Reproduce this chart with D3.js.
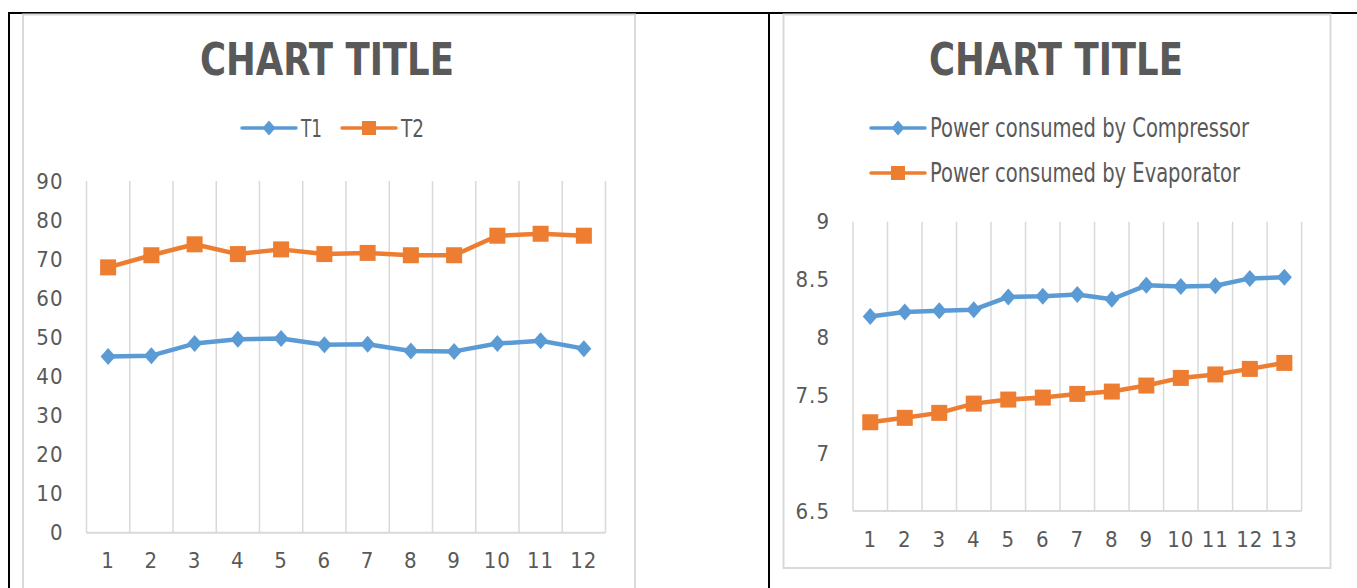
<!DOCTYPE html>
<html>
<head>
<meta charset="utf-8">
<script src="https://cdn.jsdelivr.net/npm/d3@7"></script>
<style>
  html, body { margin: 0; padding: 0; background: #fff; }
  svg { display: block; }
  text { font-family: "DejaVu Sans Condensed", "Liberation Sans Narrow", sans-serif; fill: #595959; }
</style>
</head>
<body>
<svg id="chart" width="1357" height="588"></svg>
<script>
// ---------- data ----------
const leftCategories = [1, 2, 3, 4, 5, 6, 7, 8, 9, 10, 11, 12];
const t1Values = [45.1, 45.3, 48.4, 49.5, 49.7, 48.1, 48.2, 46.5, 46.4, 48.4, 49.1, 47.1];
const t2Values = [67.9, 71.0, 73.8, 71.3, 72.5, 71.3, 71.6, 71.0, 71.0, 76.0, 76.5, 76.0];
const leftTicks = [0, 10, 20, 30, 40, 50, 60, 70, 80, 90];
const leftSeriesNames = ["T1", "T2"];

const rightCategories = [1, 2, 3, 4, 5, 6, 7, 8, 9, 10, 11, 12, 13];
const compressorValues = [8.18, 8.22, 8.23, 8.24, 8.35, 8.355, 8.37, 8.33, 8.45, 8.44, 8.447, 8.51, 8.52];
const evaporatorValues = [7.267, 7.305, 7.348, 7.428, 7.463, 7.48, 7.512, 7.532, 7.584, 7.65, 7.68, 7.728, 7.78];
const rightTicks = [6.5, 7, 7.5, 8, 8.5, 9];
const rightSeriesNames = ["Power consumed by Compressor", "Power consumed by Evaporator"];

const chartTitle = "CHART TITLE";

// ---------- style ----------
const BLUE = "#5B9BD5", ORANGE = "#ED7D31", GRID = "#d9d9d9", TXT = "#595959";
const svg = d3.select("#chart");

// page frame (black lines)
svg.append("line").attr("x1", 8).attr("x2", 1357).attr("y1", 13).attr("y2", 13)
  .attr("stroke", "#000").attr("stroke-width", 2);
svg.append("line").attr("x1", 9).attr("x2", 9).attr("y1", 12).attr("y2", 588)
  .attr("stroke", "#000").attr("stroke-width", 2);
svg.append("line").attr("x1", 769).attr("x2", 769).attr("y1", 12).attr("y2", 588)
  .attr("stroke", "#000").attr("stroke-width", 2);

function diamondPath(w, h) {
  return `M0,${-h/2}L${w/2},0L0,${h/2}L${-w/2},0Z`;
}

function drawChart(cfg) {
  const g = svg.append("g");
  // chart box
  g.append("rect").attr("x", cfg.box[0]).attr("y", cfg.box[1])
    .attr("width", cfg.box[2] - cfg.box[0]).attr("height", cfg.box[3] - cfg.box[1])
    .attr("fill", "#fff").attr("stroke", GRID).attr("stroke-width", 2);

  // title
  g.append("text").attr("x", cfg.titleX).attr("y", 75)
    .attr("text-anchor", "middle").attr("font-size", 44).attr("font-weight", "bold")
    .attr("textLength", 254).attr("lengthAdjust", "spacingAndGlyphs")
    .style("fill", TXT).text(chartTitle);

  const x = d3.scaleBand().domain(cfg.categories).range(cfg.xRange).padding(0);
  const y = d3.scaleLinear().domain([cfg.ticks[0], cfg.ticks[cfg.ticks.length - 1]]).range(cfg.yRange);
  const cx = d => x(d) + x.bandwidth() / 2;

  // vertical gridlines at category boundaries
  const bounds = cfg.categories.map(c => x(c)).concat([x.range()[1]]);
  g.append("g").selectAll("line").data(bounds).join("line")
    .attr("x1", d => d).attr("x2", d => d)
    .attr("y1", y.range()[1]).attr("y2", y.range()[0])
    .attr("stroke", GRID).attr("stroke-width", 1.5);
  // baseline
  g.append("line").attr("x1", x.range()[0]).attr("x2", x.range()[1])
    .attr("y1", y.range()[0]).attr("y2", y.range()[0])
    .attr("stroke", GRID).attr("stroke-width", 2);

  // y axis labels
  const yAxis = d3.axisLeft(y).tickValues(cfg.ticks).tickSize(0).tickPadding(cfg.yPad)
    .tickFormat(d => String(d));
  const ya = g.append("g").attr("transform", `translate(${x.range()[0]},0)`).call(yAxis);
  ya.select(".domain").remove();
  ya.selectAll("text").attr("font-size", 22).attr("letter-spacing", 1)
    .attr("font-family", null).style("fill", TXT);

  // x axis labels
  const xAxis = d3.axisBottom(x).tickSize(0).tickPadding(cfg.xPad);
  const xa = g.append("g").attr("transform", `translate(0,${y.range()[0]})`).call(xAxis);
  xa.select(".domain").remove();
  xa.selectAll("text").attr("font-size", 22).attr("letter-spacing", 1)
    .attr("font-family", null).style("fill", TXT);

  const line = d3.line().x((d, i) => cx(cfg.categories[i])).y(d => y(d));

  // series 1 (blue, diamonds)
  g.append("path").datum(cfg.s1).attr("d", line).attr("fill", "none")
    .attr("stroke", BLUE).attr("stroke-width", 4.5).attr("stroke-linejoin", "round").attr("stroke-linecap", "round");
  g.append("g").selectAll("path").data(cfg.s1).join("path")
    .attr("transform", (d, i) => `translate(${cx(cfg.categories[i])},${y(d)})`)
    .attr("d", diamondPath(15, 17)).attr("fill", BLUE);

  // series 2 (orange, squares)
  g.append("path").datum(cfg.s2).attr("d", line).attr("fill", "none")
    .attr("stroke", ORANGE).attr("stroke-width", 4.5).attr("stroke-linejoin", "round").attr("stroke-linecap", "round");
  g.append("g").selectAll("rect").data(cfg.s2).join("rect")
    .attr("x", (d, i) => cx(cfg.categories[i]) - 8).attr("y", d => y(d) - 8)
    .attr("width", 16).attr("height", 16).attr("fill", ORANGE);

  // legend
  cfg.legend.forEach((L, i) => {
    const lg = g.append("g").attr("transform", `translate(${L.x},${L.y})`);
    const color = i === 0 ? BLUE : ORANGE;
    lg.append("line").attr("x1", 0).attr("x2", 54).attr("y1", 0).attr("y2", 0)
      .attr("stroke", color).attr("stroke-width", 3.5).attr("stroke-linecap", "round");
    if (i === 0) {
      lg.append("path").attr("transform", "translate(27,0)").attr("d", diamondPath(13, 15)).attr("fill", color);
    } else {
      lg.append("rect").attr("x", 20).attr("y", -7).attr("width", 14).attr("height", 14).attr("fill", color);
    }
    lg.append("text").attr("x", 59).attr("y", 0).attr("dy", "0.36em")
      .attr("font-size", L.fs)
      .attr("textLength", L.w).attr("lengthAdjust", "spacingAndGlyphs")
      .style("fill", TXT).text(L.name);
  });
}

drawChart({
  box: [23, 14.5, 635, 600],
  titleX: 327,
  categories: leftCategories,
  ticks: leftTicks,
  xRange: [86.5, 605.5],
  yRange: [532.7, 181],
  yPad: 23,
  xPad: 20,
  s1: t1Values,
  s2: t2Values,
  legend: [
    { name: leftSeriesNames[0], x: 242, y: 128, fs: 24, w: 21 },
    { name: leftSeriesNames[1], x: 342, y: 128, fs: 24, w: 23 }
  ]
});

drawChart({
  box: [783.5, 14.5, 1330.5, 568],
  titleX: 1056,
  categories: rightCategories,
  ticks: rightTicks,
  xRange: [853, 1301.6],
  yRange: [511, 221.7],
  yPad: 23,
  xPad: 20,
  s1: compressorValues,
  s2: evaporatorValues,
  legend: [
    { name: rightSeriesNames[0], x: 871, y: 128, fs: 26, w: 319 },
    { name: rightSeriesNames[1], x: 871, y: 173, fs: 26, w: 310 }
  ]
});
</script>
</body>
</html>
